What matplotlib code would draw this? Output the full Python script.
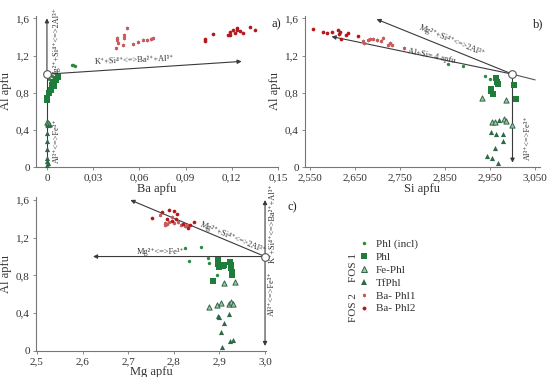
import matplotlib
matplotlib.use("Agg")
import matplotlib.pyplot as plt
from matplotlib.ticker import FixedLocator, FuncFormatter
from matplotlib.lines import Line2D

plt.rcParams['font.family'] = ['Liberation Serif', 'DejaVu Serif']

# ---- panel a: Ba apfu vs Al apfu ----
a_incl_ba = [0.016, 0.017, 0.0182, 0.003, 0.0015]
a_incl_al = [1.099, 1.095, 1.09, 0.98, 0.95]
a_phl_ba = [0.0073, 0.0058, 0.0041, 0.003, 0.0045, 0.0024, 0.0015, 0.0, 0.0002]
a_phl_al = [0.967, 0.938, 0.92, 0.88, 0.87, 0.834, 0.797, 0.725, 0.743]
a_fe_ba = [0.0, 0.0013, 0.0005, 0.001]
a_fe_al = [0.49, 0.46, 0.47, 0.48]
a_tf_ba = [0.0005, 0.0, 0.0003, 0.0, 0.0002, 0.0, 0.0008, 0.0]
a_tf_al = [0.45, 0.37, 0.28, 0.2, 0.1, 0.07, 0.05, 0.02]
a_ba1_ba = [0.0517, 0.0457, 0.0457, 0.0461, 0.0500, 0.0500, 0.0491, 0.0448,
            0.0561, 0.0593, 0.0621, 0.0647, 0.0673, 0.0686]
a_ba1_al = [1.50, 1.387, 1.363, 1.334, 1.424, 1.392, 1.309, 1.280,
            1.327, 1.345, 1.363, 1.370, 1.374, 1.384]
a_ba2_ba = [0.1026, 0.1026, 0.1080, 0.1177, 0.1188, 0.1210, 0.1232, 0.1236,
            0.1253, 0.1221, 0.1275, 0.1318, 0.1351, 0.1188]
a_ba2_al = [1.381, 1.355, 1.434, 1.424, 1.452, 1.470, 1.477, 1.491,
            1.463, 1.445, 1.441, 1.505, 1.477, 1.416]

# ---- panel b: Si apfu vs Al apfu ----
b_incl_si = [2.856, 2.889, 2.940, 2.950]
b_incl_al = [1.104, 1.087, 0.985, 0.946]
b_phl_si = [2.963, 2.966, 2.967, 2.952, 2.953, 2.957, 3.004, 3.007]
b_phl_al = [0.964, 0.921, 0.893, 0.844, 0.816, 0.787, 0.879, 0.735]
b_fe_si = [2.933, 2.986, 3.0, 2.955, 2.961, 2.981, 2.986]
b_fe_al = [0.739, 0.718, 0.457, 0.485, 0.485, 0.517, 0.50]
b_tf_si = [2.970, 2.952, 2.963, 2.980, 2.980, 2.961, 2.944, 2.955, 2.968]
b_tf_al = [0.51, 0.383, 0.358, 0.358, 0.281, 0.207, 0.123, 0.105, 0.049]
b_ba1_si = [2.668, 2.671, 2.678, 2.683, 2.691, 2.698, 2.708, 2.713, 2.723,
            2.728, 2.732, 2.760]
b_ba1_al = [1.361, 1.337, 1.372, 1.379, 1.379, 1.372, 1.361, 1.386, 1.315,
            1.337, 1.308, 1.280]
b_ba2_si = [2.556, 2.580, 2.587, 2.600, 2.613, 2.617, 2.614, 2.629, 2.634,
            2.657, 2.619]
b_ba2_al = [1.49, 1.456, 1.446, 1.456, 1.47, 1.449, 1.431, 1.424, 1.442,
            1.413, 1.38]

# ---- panel c: Mg apfu vs Al apfu ----
c_incl_mg = [2.825, 2.860, 2.833, 2.876, 2.878, 2.895]
c_incl_al = [1.09, 1.104, 0.952, 0.987, 0.934, 0.804]
c_phl_mg = [2.896, 2.898, 2.899, 2.907, 2.911, 2.923, 2.925, 2.925, 2.927,
            2.928, 2.887]
c_phl_al = [0.963, 0.917, 0.892, 0.90, 0.91, 0.938, 0.91, 0.875, 0.832,
            0.804, 0.74]
c_fe_mg = [2.909, 2.934, 2.878, 2.894, 2.903, 2.920, 2.925, 2.929]
c_fe_al = [0.716, 0.726, 0.467, 0.485, 0.503, 0.496, 0.514, 0.496]
c_tf_mg = [2.898, 2.900, 2.920, 2.911, 2.904, 2.905, 2.923, 2.930]
c_tf_al = [0.368, 0.354, 0.386, 0.291, 0.202, 0.042, 0.103, 0.114]
c_ba1_mg = [2.77, 2.78, 2.785, 2.79, 2.80, 2.81, 2.815, 2.825, 2.83, 2.78,
            2.795]
c_ba1_al = [1.44, 1.36, 1.35, 1.37, 1.36, 1.37, 1.33, 1.32, 1.34, 1.34, 1.42]
c_ba2_mg = [2.753, 2.775, 2.789, 2.800, 2.785, 2.795, 2.805, 2.820, 2.832,
            2.845, 2.808, 2.835]
c_ba2_al = [1.41, 1.47, 1.49, 1.48, 1.40, 1.38, 1.40, 1.35, 1.30, 1.37,
            1.45, 1.33]

names = ['Phl (incl)', 'Phl', 'Fe-Phl', 'TfPhl', 'Ba- Phl1', 'Ba- Phl2']
styles = {
    'Phl (incl)': dict(marker='o', s=6, c='#2b8a3e', linewidths=0),
    'Phl': dict(marker='s', s=14, c='#1f7d3c', linewidths=0),
    'Fe-Phl': dict(marker='^', s=14, c='#a9bfae', edgecolors='#2d6a45', linewidths=0.7),
    'TfPhl': dict(marker='^', s=14, c='#2d6a45', linewidths=0),
    'Ba- Phl1': dict(marker=(6, 2, 0), s=5, c='#c85a5c', linewidths=0.5),
    'Ba- Phl2': dict(marker='o', s=7, c='#b3191c', linewidths=0),
}

GRAY = '#777777'
ARROW = '#3a3a3a'
TXT = '#333333'
LBL = 6  # size of the substitution labels

K_BA = 'K⁺+Si⁴⁺<=>Ba²⁺+Al³⁺'
MG_SI = 'Mg²⁺+Si⁴⁺<=>2Al³⁺'
AL_FE = 'Al³⁺<=>Fe³⁺'
MG_FE = 'Mg²⁺<=>Fe³⁺'


def comma(fmt):
    return FuncFormatter(lambda v, _: (fmt % v).replace('.', ','))


def style_axes(ax, xticks, xfmt):
    for s in ['top', 'right']:
        ax.spines[s].set_visible(False)
    for s in ['left', 'bottom']:
        ax.spines[s].set_color(GRAY)
        ax.spines[s].set_linewidth(0.8)
    ax.xaxis.set_major_locator(FixedLocator(xticks))
    ax.xaxis.set_major_formatter(comma(xfmt))
    ax.yaxis.set_major_locator(FixedLocator([0, 0.4, 0.8, 1.2, 1.6]))
    ax.yaxis.set_major_formatter(comma('%g'))
    ax.tick_params(direction='out', length=2.5, width=0.6, color=GRAY,
                   labelsize=8, labelcolor=TXT, pad=2)
    ax.set_ylim(0, 1.63)
    ax.set_ylabel('Al apfu', fontsize=9, color=TXT, labelpad=3)


def arrow(ax, start, end):
    ax.annotate('', xy=end, xytext=start,
                arrowprops=dict(arrowstyle='-|>', color=ARROW, lw=0.8,
                                mutation_scale=6, shrinkA=0, shrinkB=0),
                annotation_clip=False)


def origin(ax, x, y):
    ax.plot([x], [y], marker='o', ms=5.5, mfc='white', mec='#555555',
            mew=0.8, zorder=6, clip_on=False)


def scatter_all(ax, data):
    for name, (xs, ys) in zip(names, data):
        ax.scatter(xs, ys, zorder=4, clip_on=False, **styles[name])


def label(ax, x, y, s, rot=0):
    ax.text(x, y, s, fontsize=LBL, ha='center', va='center', rotation=rot,
            color=TXT, clip_on=False)


fig = plt.figure(figsize=(5.5, 3.77), dpi=100)

# panel a
ax = fig.add_axes([36 / 550, 1 - 167.3 / 377, 242 / 550, 151.8 / 377])
style_axes(ax, [0, 0.03, 0.06, 0.09, 0.12, 0.15], '%g')
ax.set_xlim(-0.0071, 0.15)
ax.set_xlabel('Ba apfu', fontsize=9, color=TXT, labelpad=0)
arrow(ax, (0, 1.0), (0, 1.6))
ax.plot([0, 0], [0, 1.0], color=ARROW, lw=0.8, zorder=2)
arrow(ax, (0, 1.0), (0.1264, 1.137))
scatter_all(ax, [(a_incl_ba, a_incl_al), (a_phl_ba, a_phl_al), (a_fe_ba, a_fe_al),
                 (a_tf_ba, a_tf_al), (a_ba1_ba, a_ba1_al), (a_ba2_ba, a_ba2_al)])
origin(ax, 0, 1.0)
label(ax, 0.057, 1.15, K_BA, 2.5)
label(ax, 0.0065, 1.34, MG_SI, 90)
label(ax, 0.0065, 0.29, AL_FE, 90)

# panel b
ax = fig.add_axes([305 / 550, 1 - 167.3 / 377, 234.5 / 550, 151.8 / 377])
style_axes(ax, [2.55, 2.65, 2.75, 2.85, 2.95, 3.05], '%.3f')
ax.set_xlim(2.539, 3.06)
ax.set_xlabel('Si apfu', fontsize=9, color=TXT, labelpad=0)
arrow(ax, (3.0, 1.0), (2.698, 1.59))
ax.plot([3.0, 3.05], [1.0, 0.939], color='#555555', lw=0.8, zorder=2)
arrow(ax, (3.0, 1.0), (2.598, 1.404))
arrow(ax, (3.0, 1.0), (3.0, 0.05))
scatter_all(ax, [(b_incl_si, b_incl_al), (b_phl_si, b_phl_al), (b_fe_si, b_fe_al),
                 (b_tf_si, b_tf_al), (b_ba1_si, b_ba1_al), (b_ba2_si, b_ba2_al)])
origin(ax, 3.0, 1.0)
label(ax, 2.865, 1.36, MG_SI, -22.5)
label(ax, 2.82, 1.19, 'Al+Si= 4 apfu', -12)
label(ax, 3.035, 0.32, AL_FE, 90)

# panel c
ax = fig.add_axes([36 / 550, 1 - 350.7 / 377, 230.4 / 550, 153.5 / 377])
style_axes(ax, [2.5, 2.6, 2.7, 2.8, 2.9, 3.0], '%.1f')
ax.set_xlim(2.498, 3.003)
ax.set_xlabel('Mg apfu', fontsize=9, color=TXT, labelpad=0)
arrow(ax, (3.0, 1.0), (2.705, 1.6))
arrow(ax, (3.0, 1.0), (2.623, 1.0))
arrow(ax, (3.0, 1.0), (3.0, 1.6))
arrow(ax, (3.0, 1.0), (3.0, 0.05))
scatter_all(ax, [(c_incl_mg, c_incl_al), (c_phl_mg, c_phl_al), (c_fe_mg, c_fe_al),
                 (c_tf_mg, c_tf_al), (c_ba1_mg, c_ba1_al), (c_ba2_mg, c_ba2_al)])
origin(ax, 3.0, 1.0)
label(ax, 2.77, 1.05, MG_FE)
label(ax, 2.93, 1.2, MG_SI, -22.5)
label(ax, 3.016, 1.35, K_BA, 90)
label(ax, 3.016, 0.61, AL_FE, 90)

# panel letters
fig.text(271 / 550, 1 - 24 / 377, 'a)', fontsize=9, va='center', color='#222222')
fig.text(533 / 550, 1 - 24 / 377, 'b)', fontsize=9, va='center', color='#222222')
fig.text(288 / 550, 1 - 207 / 377, 'c)', fontsize=9, va='center', color='#222222')

# legend
marker_sizes = {'Phl (incl)': 2.5, 'Phl': 4, 'Fe-Phl': 4, 'TfPhl': 4,
                'Ba- Phl1': 2.5, 'Ba- Phl2': 2.8}
handles = []
for name in names:
    st = styles[name]
    handles.append(Line2D([], [], ls='none', marker=st['marker'], ms=marker_sizes[name],
                          mfc=st['c'], mec=st.get('edgecolors', st['c']),
                          mew=st['linewidths']))
fig.legend(handles, names, loc='upper left', bbox_to_anchor=(359 / 550, 1 - 239 / 377),
           frameon=False, fontsize=8, handlelength=0.9, handletextpad=0.6,
           labelspacing=0.28, borderpad=0, borderaxespad=0, labelcolor=TXT)
fig.text(354 / 550, 1 - 268 / 377, 'FOS 1', fontsize=8, rotation=90,
         ha='center', va='center', color=TXT)
fig.text(354 / 550, 1 - 308 / 377, 'FOS 2', fontsize=8, rotation=90,
         ha='center', va='center', color=TXT)

fig.savefig('out.png', dpi=100)
